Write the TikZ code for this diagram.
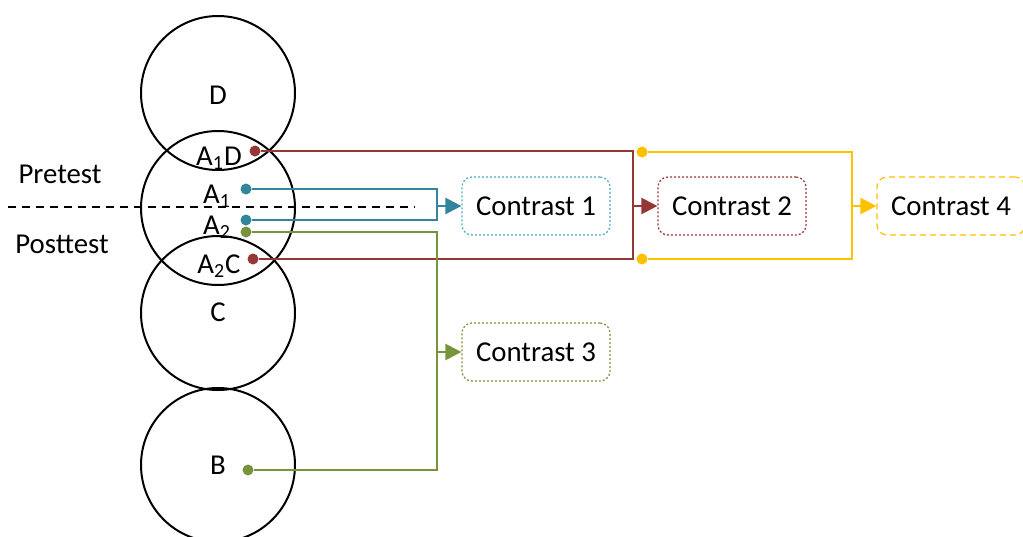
\documentclass[tikz,border=0pt]{standalone}
\usepackage{fontspec}
\setmainfont{Carlito}
\usepackage{tikz}
\usetikzlibrary{positioning,arrows.meta}
\tikzset{>={Triangle[length=8pt,width=8pt]}}
\definecolor{cred}{HTML}{953735}
\definecolor{cblue}{HTML}{31859C}
\definecolor{cblueb}{HTML}{4BACC6}
\definecolor{cgreen}{HTML}{77933C}
\definecolor{cyellow}{HTML}{FFC000}
\tikzset{
  ring/.style={circle,draw,line width=1pt,minimum size=77pt,inner sep=0pt},
  dot/.style={circle,fill=#1,inner sep=0pt,minimum size=5.5pt},
  link/.style={draw=#1,line width=1.2pt},
  cbox/.style={draw=#1,rounded corners=5pt,minimum width=74pt,minimum height=29pt,line width=0.6pt},
  dots/.style={dash pattern=on 1pt off 1pt}
}

\begin{document}
\begin{tikzpicture}[x=0.5pt,y=-0.5pt,every node/.style={font=\fontsize{14.4}{17}\selectfont}]
\useasboundingbox (0,0) rectangle (1023,536);
% circles
\node[ring] (cD) at (218,93) {};
\node[ring] (cA) at (218,208) {};
\node[ring] (cC) at (218,313) {};
\node[ring] (cB) at (218,465) {};
\node (lD) at (218,95) {D};
\node (lA1D) at (219,158) {A\textsubscript{1}D};
\node (lA1) at (217,196) {A\textsubscript{1}};
\node (lA2) at (217,227) {A\textsubscript{2}};
\node (lA2C) at (219,266) {A\textsubscript{2}C};
\node (lC) at (218,312) {C};
\node (lB) at (218,465) {B};
% pre / post
\node (pre) at (60,174) {Pretest};
\node (post) at (62,244) {Posttest};
\coordinate (dl) at (8,207);
\coordinate (dr) at (415,207);
\draw[line width=0.8pt,dash pattern=on 4pt off 3pt] (dl) -- (dr);
% contrasts
\node[cbox=cblueb,dots] (c1) at (536,206) {Contrast 1};
\node[cbox=cred,dots] (c2) at (732,206) {Contrast 2};
\node[cbox=cgreen,dots] (c3) at (536,352) {Contrast 3};
\node[cbox=cyellow,dash pattern=on 3pt off 2pt] (c4) at (951,206) {Contrast 4};
% dots
\node[dot=cred] (rA1D) at (255,151) {};
\node[dot=cred] (rA2C) at (253,259) {};
\node[dot=cblue] (bA1) at (246,189) {};
\node[dot=cblue] (bA2) at (246,220) {};
\node[dot=cgreen] (gA2) at (246,232) {};
\node[dot=cgreen] (gB) at (248,470) {};
\node[dot=cyellow] (y1) at (642,152) {};
\node[dot=cyellow] (y2) at (642,259) {};
\coordinate (jb) at (437,206);
\coordinate (jr) at (633,206);
\coordinate (jg) at (437,352);
\coordinate (jy) at (852,206);
% connectors
\draw[link=cblue] (bA1) -| (jb) |- (bA2);
\draw[link=cblue,->] (jb) -- (c1);
\draw[link=cred] (rA1D) -| (jr) |- (rA2C);
\draw[link=cred,->] (jr) -- (c2);
\draw[link=cgreen] (gA2) -| (jg) |- (gB);
\draw[link=cgreen,->] (jg) -- (c3);
\draw[link=cyellow] (y1) -| (jy) |- (y2);
\draw[link=cyellow,->] (jy) -- (c4);
\end{tikzpicture}
\end{document}
